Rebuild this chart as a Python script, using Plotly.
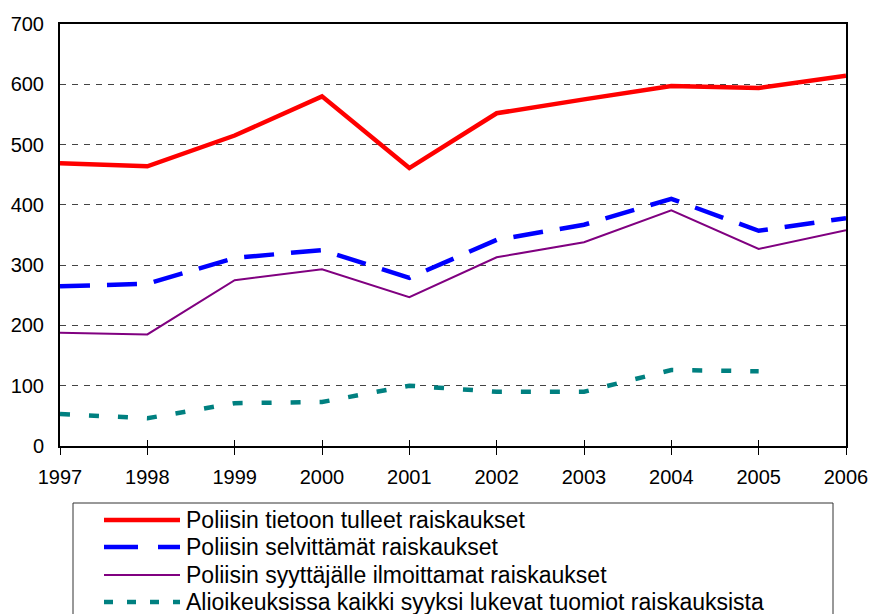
import plotly.graph_objects as go

years = [1997, 1998, 1999, 2000, 2001, 2002, 2003, 2004, 2005, 2006]
tietoon = [469, 464, 515, 580, 461, 552, 575, 597, 594, 614]
selvittamat = [265, 269, 312, 325, 279, 342, 367, 410, 357, 378]
syyttajalle = [188, 185, 275, 293, 247, 313, 338, 391, 327, 358]
tuomiot_years = [1997, 1998, 1999, 2000, 2001, 2002, 2003, 2004, 2005]
tuomiot = [53, 46, 71, 73, 100, 90, 90, 126, 124]

names = [
    "Poliisin tietoon tulleet raiskaukset",
    "Poliisin selvittämät raiskaukset",
    "Poliisin syyttäjälle ilmoittamat raiskaukset",
    "Alioikeuksissa kaikki syyksi lukevat tuomiot raiskauksista",
]
colors = ["#FF0000", "#0000FF", "#800080", "#008080"]
widths = [4.5, 4.5, 2, 4.5]
dashes = ["solid", "30px,17px", "solid", "10px,19px"]
legend_dashes = ["solid", "34px,20px", "solid", "9px,14px"]
yvals = [(years, tietoon), (years, selvittamat), (years, syyttajalle), (tuomiot_years, tuomiot)]

W, H = 870, 614
PL, PR, PT, PB = 60, 846, 24, 446  # plot area in pixels
L, T, R, B = PL, PT, W - PR, H - PB
pw, ph = PR - PL, PB - PT
FONT = "Liberation Sans, Arial"

fig = go.Figure()
for (xs, ys), n, c, w, d in zip(yvals, names, colors, widths, dashes):
    fig.add_trace(go.Scatter(x=xs, y=ys, name=n, mode="lines",
                             line=dict(color=c, width=w, dash=d),
                             showlegend=False, hoverinfo="skip"))

# manual legend (pixel -> paper coords)
def px2x(p):
    return (p - PL) / pw

def py2y(p):
    return (PB - p) / ph

shapes = [dict(type="rect", xref="paper", yref="paper",
               x0=px2x(73), x1=px2x(833), y0=py2y(640), y1=py2y(503),
               line=dict(color="#333333", width=1), fillcolor="white", layer="below")]
annotations = []
row_y = [520, 547, 575, 602]
for n, c, w, d, ry in zip(names, colors, widths, legend_dashes, row_y):
    shapes.append(dict(type="line", xref="paper", yref="paper",
                       x0=px2x(104), x1=px2x(180), y0=py2y(ry), y1=py2y(ry),
                       line=dict(color=c, width=w, dash=d)))
    annotations.append(dict(xref="paper", yref="paper", x=px2x(184), y=py2y(ry),
                            xanchor="left", yanchor="middle", text=n, showarrow=False,
                            font=dict(family=FONT, size=23, color="black")))

fig.update_layout(
    width=W, height=H,
    margin=dict(l=L, r=R, t=T, b=B, pad=0),
    plot_bgcolor="white", paper_bgcolor="white",
    font=dict(family=FONT, size=20, color="black"),
    shapes=shapes, annotations=annotations,
    xaxis=dict(range=[1997, 2006], tickmode="array", tickvals=years,
               ticktext=[str(y) for y in years], automargin=False,
               showgrid=False, zeroline=False, ticklabeloverflow="allow",
               showline=True, linecolor="black", linewidth=2, mirror=True,
               ticks="outside", ticklen=7, tickwidth=1, tickcolor="black",
               ticklabelstandoff=5),
    xaxis2=dict(range=[1997, 2006], tickmode="array", tickvals=years,
                overlaying="x", showticklabels=False, showgrid=False, zeroline=False,
                showline=False, ticks="inside", ticklen=6, tickwidth=1, tickcolor="black",
                automargin=False),
    yaxis=dict(range=[0, 700], dtick=100, tickmode="linear", automargin=False,
               showgrid=True, gridcolor="#444444", griddash="6px,6px", gridwidth=1,
               zeroline=False, showline=True, linecolor="black", linewidth=2, mirror=True,
               ticks="", ticklabelstandoff=10),
)
fig.add_trace(go.Scatter(x=[1997], y=[None], xaxis="x2", showlegend=False, hoverinfo="skip"))
fig.write_html("out.html", config={"displayModeBar": False, "staticPlot": True},
               post_script="document.body.style.margin='0px';document.body.style.overflow='hidden';")
